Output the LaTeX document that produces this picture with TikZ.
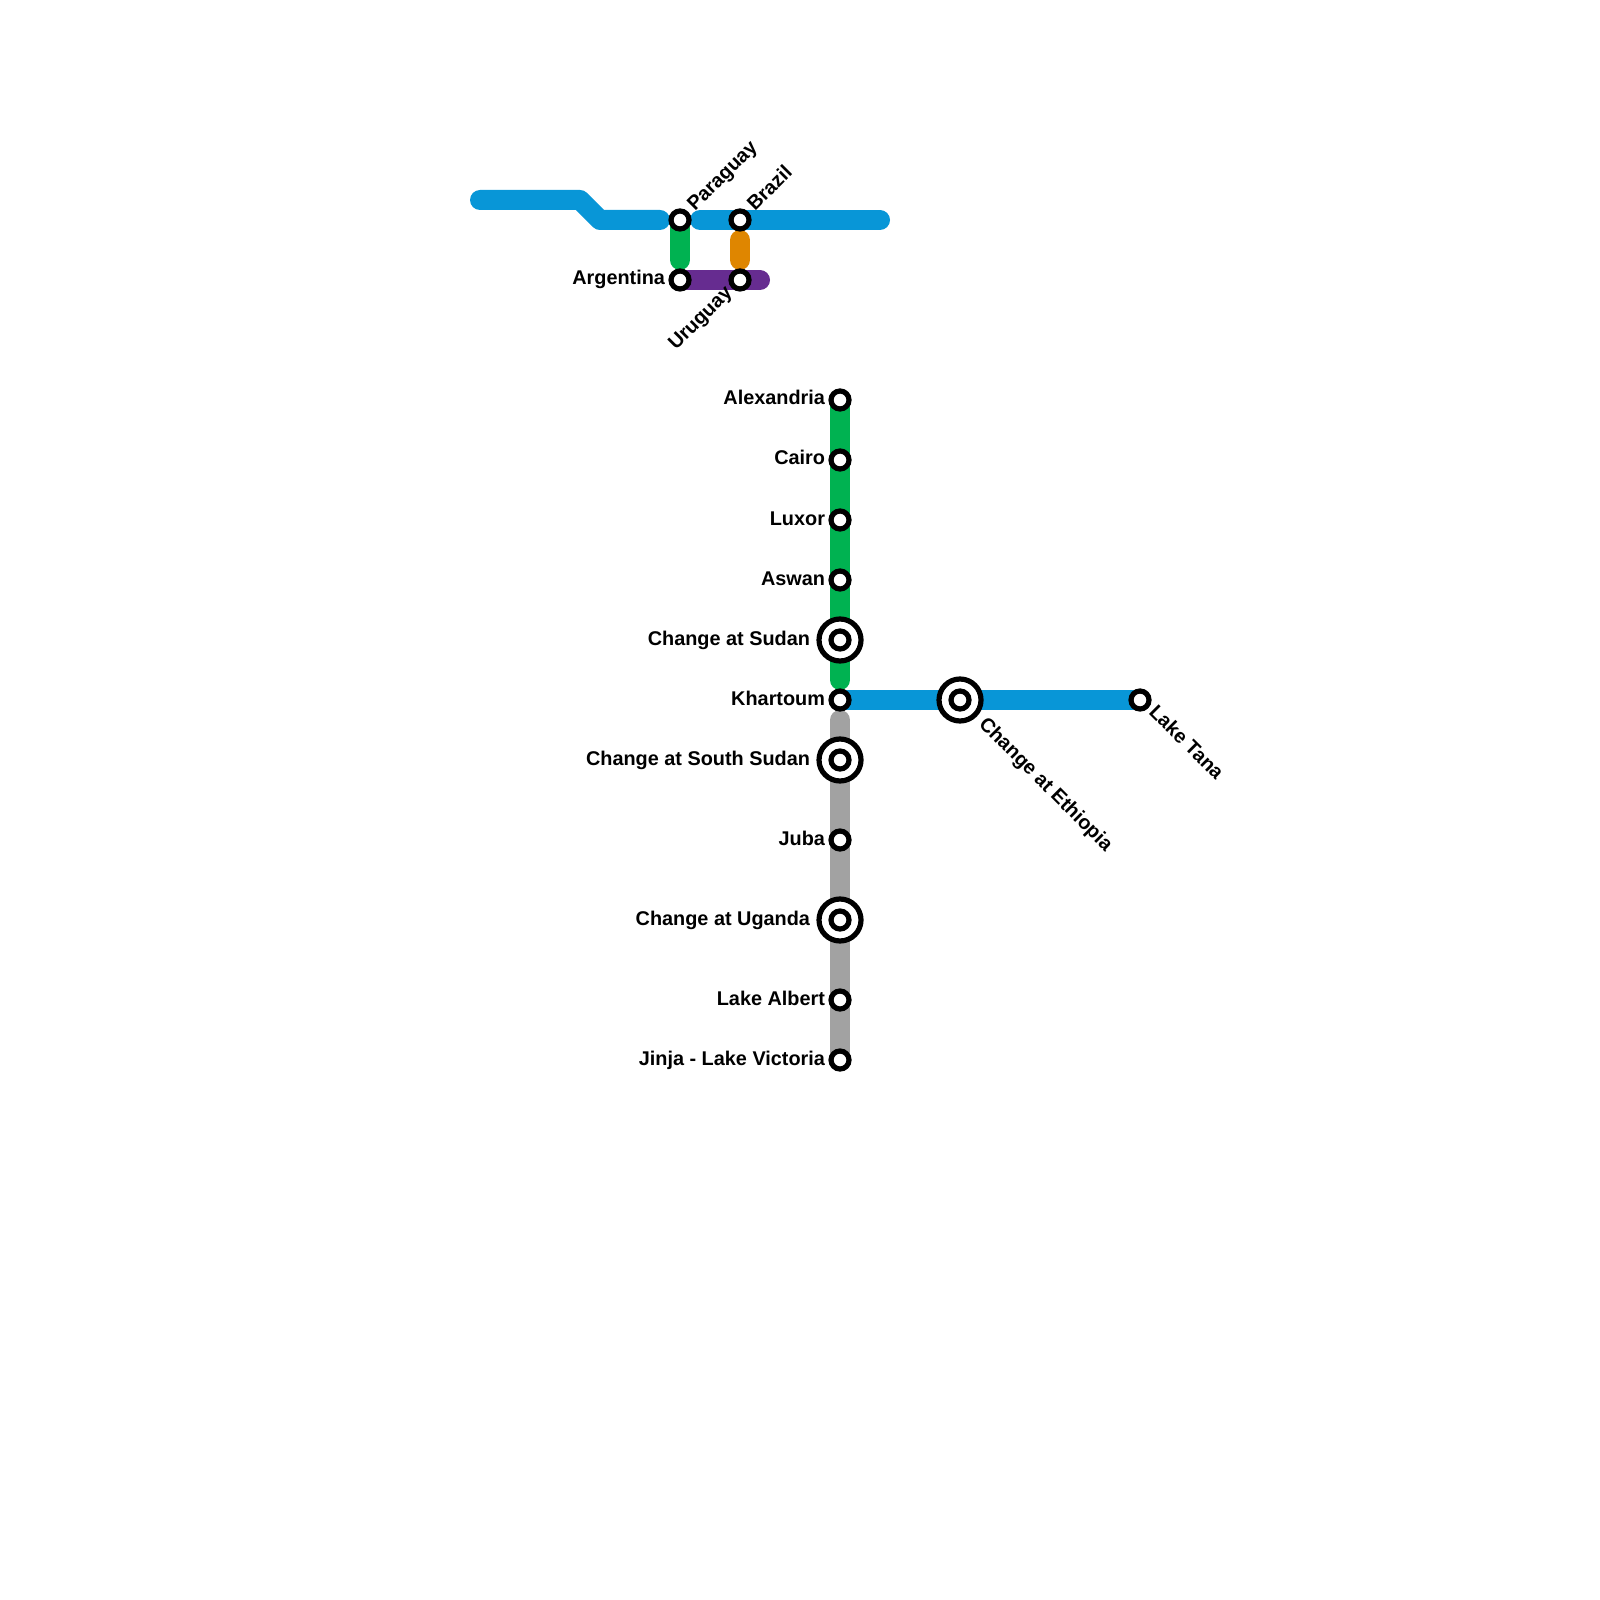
\documentclass[tikz,border=0pt]{standalone}
\usepackage{fontspec}
\setmainfont{Liberation Sans}
\usetikzlibrary{backgrounds}
\definecolor{lineblue}{HTML}{0896D7}
\definecolor{linegreen}{HTML}{00B251}
\definecolor{lineorange}{HTML}{DF8600}
\definecolor{linepurple}{HTML}{662C90}
\definecolor{linegray}{HTML}{A2A2A2}

\begin{document}
\begin{tikzpicture}[y=-1cm,
    track/.style={line width=0.2cm, line cap=round, line join=round},
    stop/.style={circle, draw=black, fill=white, line width=0.052cm, minimum size=0.18cm, inner sep=0pt, outer sep=0pt},
    change/.style={circle, draw=black, fill=white, line width=0.052cm, minimum size=0.42cm, inner sep=0pt, outer sep=0pt},
    place/.style={font=\fontsize{5.65}{6.8}\selectfont\bfseries, inner sep=0pt, outer sep=0pt}]
    \useasboundingbox (0,0) rectangle (16,16);

    % top group
    \node[stop] (paraguay) at (6.8,2.2) {};
    \node[stop] (brazil) at (7.4,2.2) {};
    \node[stop] (argentina) at (6.8,2.8) {};
    \node[stop] (uruguay) at (7.4,2.8) {};
    \node[place, anchor=base west, rotate=45] (paraguay-txt) at (6.95,2.12) {Paraguay};
    \node[place, anchor=base west, rotate=45] (brazil-txt) at (7.55,2.12) {Brazil};
    \node[place, anchor=base east] (argentina-txt) at (6.65,2.85) {Argentina};
    \node[place, anchor=base east, rotate=45] (uruguay-txt) at (7.33,2.94) {Uruguay};

    % main line
    \node[stop] (alexandria) at (8.4,4) {};
    \node[stop] (cairo) at (8.4,4.6) {};
    \node[stop] (luxor) at (8.4,5.2) {};
    \node[stop] (aswan) at (8.4,5.8) {};
    \node[change] (sudan) at (8.4,6.4) {};
    \node[stop] (sudan-in) at (8.4,6.4) {};
    \node[stop] (khartoum) at (8.4,7) {};
    \node[change] (ssudan) at (8.4,7.6) {};
    \node[stop] (ssudan-in) at (8.4,7.6) {};
    \node[stop] (juba) at (8.4,8.4) {};
    \node[change] (uganda) at (8.4,9.2) {};
    \node[stop] (uganda-in) at (8.4,9.2) {};
    \node[stop] (albert) at (8.4,10) {};
    \node[stop] (jinja) at (8.4,10.6) {};
    \node[change] (ethiopia) at (9.6,7) {};
    \node[stop] (ethiopia-in) at (9.6,7) {};
    \node[stop] (tana) at (11.4,7) {};

    \node[place, anchor=base east] (alexandria-txt) at (8.25,4.05) {Alexandria};
    \node[place, anchor=base east] (cairo-txt) at (8.25,4.65) {Cairo};
    \node[place, anchor=base east] (luxor-txt) at (8.25,5.25) {Luxor};
    \node[place, anchor=base east] (aswan-txt) at (8.25,5.85) {Aswan};
    \node[place, anchor=base east] (sudan-txt) at (8.1,6.45) {Change at Sudan};
    \node[place, anchor=base east] (khartoum-txt) at (8.25,7.05) {Khartoum};
    \node[place, anchor=base east] (ssudan-txt) at (8.1,7.65) {Change at South Sudan};
    \node[place, anchor=base east] (juba-txt) at (8.25,8.45) {Juba};
    \node[place, anchor=base east] (uganda-txt) at (8.1,9.25) {Change at Uganda};
    \node[place, anchor=base east] (albert-txt) at (8.25,10.05) {Lake Albert};
    \node[place, anchor=base east] (jinja-txt) at (8.25,10.65) {Jinja - Lake Victoria};
    \node[place, anchor=base west, rotate=-45] (ethiopia-txt) at (9.78,7.25) {Change at Ethiopia};
    \node[place, anchor=base west, rotate=-45] (tana-txt) at (11.48,7.13) {Lake Tana};

    % free ends of the tracks
    \coordinate (blue-start) at (4.8,2);
    \coordinate (blue-a) at (5.8,2);
    \coordinate (blue-b) at (6,2.2);
    \coordinate (blue-c) at (6.6,2.2);
    \coordinate (blue-d) at (7,2.2);
    \coordinate (blue-end) at (8.8,2.2);
    \coordinate (green-b) at (6.8,2.6);
    \coordinate (orange-a) at (7.4,2.4);
    \coordinate (orange-b) at (7.4,2.6);
    \coordinate (purple-end) at (7.6,2.8);
    \coordinate (green-end) at (8.4,6.8);
    \coordinate (gray-start) at (8.4,7.2);

    \begin{scope}[on background layer]
      \draw[track, lineblue] (blue-start) -- (blue-a) -- (blue-b) -- (blue-c);
      \draw[track, lineblue] (blue-d) -- (brazil.center) -- (blue-end);
      \draw[track, linegreen] (paraguay.center) -- (green-b);
      \draw[track, lineorange] (orange-a) -- (orange-b);
      \draw[track, linepurple] (argentina.center) -- (uruguay.center) -- (purple-end);
      \draw[track, linegreen] (alexandria.center) -- (green-end);
      \draw[track, lineblue] (khartoum.center) -- (tana.center);
      \draw[track, linegray] (gray-start) -- (jinja.center);
    \end{scope}
\end{tikzpicture}
\end{document}
